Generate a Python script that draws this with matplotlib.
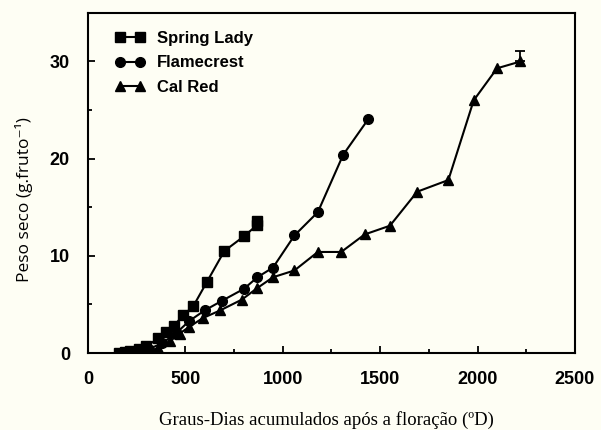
import numpy as np
import matplotlib.pyplot as plt
from matplotlib.ticker import MultipleLocator

# Data (accumulated degree-days vs dry weight)
spring_x = [160, 190, 215, 260, 300, 360, 400, 440, 490, 540, 610, 700, 800, 870, 870]
spring_y = [0, 0.1, 0.2, 0.4, 0.7, 1.5, 2.2, 2.8, 3.9, 4.8, 7.3, 10.5, 12.0, 13.2, 13.6]

flame_x = [170, 230, 300, 380, 450, 520, 600, 690, 800, 870, 950, 1060, 1180, 1310, 1440]
flame_y = [0, 0.1, 0.3, 1.0, 2.0, 3.3, 4.4, 5.4, 6.6, 7.8, 8.8, 12.1, 14.5, 20.4, 24.1]

calred_x = [190, 260, 330, 360, 420, 470, 520, 590, 680, 790, 870, 950, 1060, 1180, 1300,
            1420, 1550, 1690, 1850, 1980, 2100, 2220]
calred_y = [0, 0.1, 0.3, 0.5, 1.2, 2.0, 2.7, 3.6, 4.4, 5.5, 6.7, 7.8, 8.5, 10.4, 10.4,
            12.2, 13.1, 16.6, 17.8, 26.0, 29.3, 30.0]
calred_err_up = 1.1

bg = '#fefef4'
fig = plt.figure(figsize=(6.01, 4.30), dpi=100, facecolor=bg)
ax = fig.add_axes([0.1464, 0.179, 0.8103, 0.791])
ax.set_facecolor(bg)

ms = 7
ax.plot(spring_x, spring_y, color='black', marker='s', ms=ms, lw=1.5, label='Spring Lady')
ax.plot(flame_x, flame_y, color='black', marker='o', ms=ms, lw=1.5, label='Flamecrest')
ax.plot(calred_x, calred_y, color='black', marker='^', ms=ms + 0.5, lw=1.5, label='Cal Red')
ax.errorbar([calred_x[-1]], [calred_y[-1]], yerr=[[0], [calred_err_up]],
            fmt='none', ecolor='black', elinewidth=1.3, capsize=3.5, capthick=1.3)

ax.set_xlim(0, 2500)
ax.set_ylim(0, 35)
ax.xaxis.set_major_locator(MultipleLocator(500))
ax.xaxis.set_minor_locator(MultipleLocator(250))
ax.yaxis.set_major_locator(MultipleLocator(10))
ax.yaxis.set_minor_locator(MultipleLocator(5))
ax.tick_params(which='both', direction='in', width=1.3)
ax.tick_params(which='major', length=5)
ax.tick_params(which='minor', length=3)
ax.tick_params(axis='x', which='major', pad=13)
ax.tick_params(axis='y', which='major', pad=13)
for lab in ax.get_xticklabels() + ax.get_yticklabels():
    lab.set_fontfamily('Liberation Sans')
    lab.set_fontweight('bold')
    lab.set_fontsize(13)
for s in ax.spines.values():
    s.set_linewidth(1.5)

leg = ax.legend(loc='upper left', bbox_to_anchor=(0.025, 0.99), frameon=False,
                numpoints=2, handlelength=1.8, handletextpad=0.7, labelspacing=0.55,
                prop={'family': 'Liberation Sans', 'weight': 'bold', 'size': 12})

fig.text(0.04, 0.535, 'Peso seco (g.fruto\u207b\u00b9)', rotation=90, ha='center', va='center',
         fontsize=12.5, family=['Open Sans', 'DejaVu Sans'])
fig.text(0.543, 0.024, 'Graus-Dias acumulados após a floração (ºD)', ha='center', va='center',
         fontsize=13.5, family='Liberation Serif')

fig.savefig('out.png', dpi=100, facecolor=bg)
